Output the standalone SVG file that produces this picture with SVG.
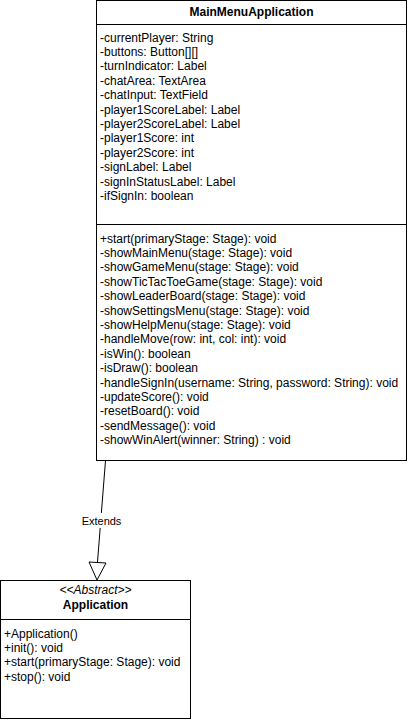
<svg xmlns="http://www.w3.org/2000/svg" width="408" height="721" viewBox="0 0 408 721">
<style>
.box{fill:#fff;stroke:#000;stroke-width:1}
.ln{stroke:#000;stroke-width:1;fill:none}
text{font-family:"Liberation Sans",Arial,sans-serif;font-size:12px;fill:#000}
.b{font-weight:bold}
.i{font-style:italic}
.c{text-anchor:middle}
</style>
<rect width="408" height="721" fill="#fff"/>
<g id="connectors">
<line class="ln" x1="105.5" y1="460.5" x2="97.5" y2="562"/>
<polygon points="89,562 106,563 97,580" fill="#fff" stroke="#000" stroke-width="1"/>
<rect x="80" y="513" width="44" height="15" fill="#fff"/>
<text class="c" x="101.5" y="524.5" style="font-size:11px">Extends</text>
</g>
<g id="MainMenuApplication">
<rect class="box" x="96.5" y="0.5" width="310" height="460"/>
<line class="ln" x1="96.5" y1="24.5" x2="406.5" y2="24.5"/>
<line class="ln" x1="96.5" y1="224.5" x2="406.5" y2="224.5"/>
<text class="b c" x="251.5" y="15.5">MainMenuApplication</text>
<text x="100" y="41.5">
<tspan x="100">-currentPlayer: String</tspan>
<tspan x="100" dy="14.4">-buttons: Button[][]</tspan>
<tspan x="100" dy="14.4">-turnIndicator: Label</tspan>
<tspan x="100" dy="14.4">-chatArea: TextArea</tspan>
<tspan x="100" dy="14.4">-chatInput: TextField</tspan>
<tspan x="100" dy="14.4">-player1ScoreLabel: Label</tspan>
<tspan x="100" dy="14.4">-player2ScoreLabel: Label</tspan>
<tspan x="100" dy="14.4">-player1Score: int</tspan>
<tspan x="100" dy="14.4">-player2Score: int</tspan>
<tspan x="100" dy="14.4">-signLabel: Label</tspan>
<tspan x="100" dy="14.4">-signInStatusLabel: Label</tspan>
<tspan x="100" dy="14.4">-ifSignIn: boolean</tspan>
</text>
<text x="100" y="242.5">
<tspan x="100">+start(primaryStage: Stage): void</tspan>
<tspan x="100" dy="14.4">-showMainMenu(stage: Stage): void</tspan>
<tspan x="100" dy="14.4">-showGameMenu(stage: Stage): void</tspan>
<tspan x="100" dy="14.4">-showTicTacToeGame(stage: Stage): void</tspan>
<tspan x="100" dy="14.4">-showLeaderBoard(stage: Stage): void</tspan>
<tspan x="100" dy="14.4">-showSettingsMenu(stage: Stage): void</tspan>
<tspan x="100" dy="14.4">-showHelpMenu(stage: Stage): void</tspan>
<tspan x="100" dy="14.4">-handleMove(row: int, col: int): void</tspan>
<tspan x="100" dy="14.4">-isWin(): boolean</tspan>
<tspan x="100" dy="14.4">-isDraw(): boolean</tspan>
<tspan x="100" dy="14.4">-handleSignIn(username: String, password: String): void</tspan>
<tspan x="100" dy="14.4">-updateScore(): void</tspan>
<tspan x="100" dy="14.4">-resetBoard(): void</tspan>
<tspan x="100" dy="14.4">-sendMessage(): void</tspan>
<tspan x="100" dy="14.4">-showWinAlert(winner: String) : void</tspan>
</text>
</g>
<g id="Application">
<rect class="box" x="0.5" y="580.5" width="190" height="138"/>
<line class="ln" x1="0.5" y1="619.5" x2="190.5" y2="619.5"/>
<text class="i c" x="95.5" y="594">&lt;&lt;Abstract&gt;&gt;</text>
<text class="b c" x="95.5" y="609">Application</text>
<text x="4" y="637.5">
<tspan x="4">+Application()</tspan>
<tspan x="4" dy="14.4">+init(): void</tspan>
<tspan x="4" dy="14.4">+start(primaryStage: Stage): void</tspan>
<tspan x="4" dy="14.4">+stop(): void</tspan>
</text>
</g>
</svg>
